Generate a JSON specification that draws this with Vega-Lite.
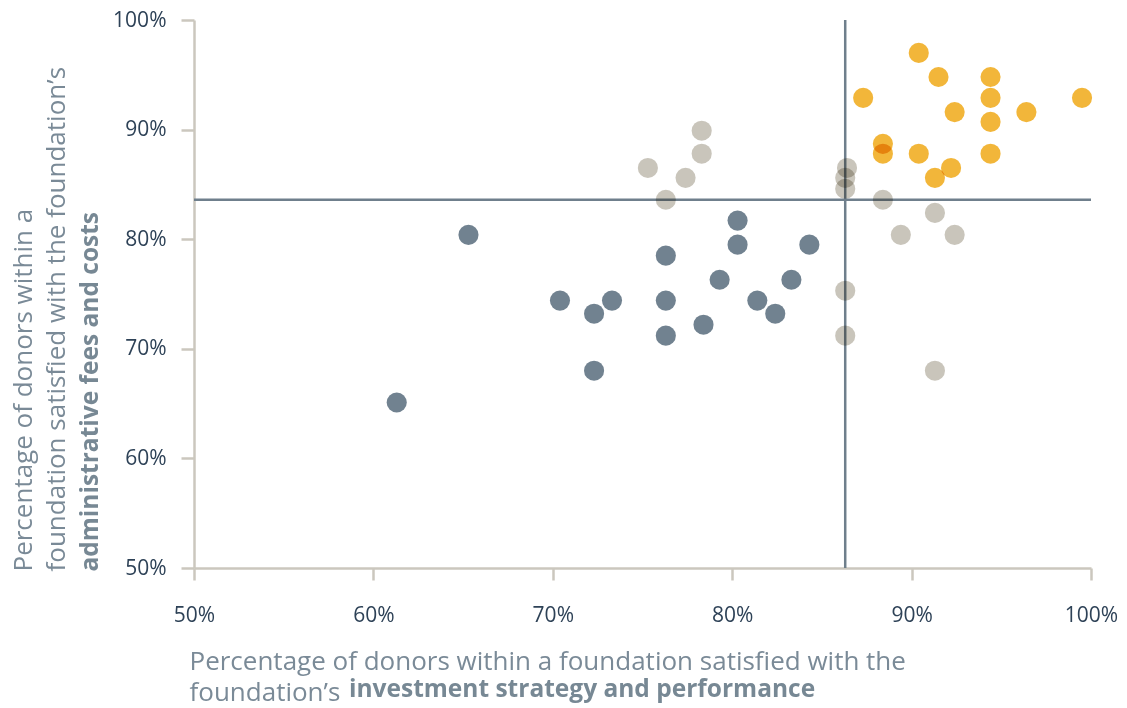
{
  "$schema": "https://vega.github.io/schema/vega-lite/v6.json",
  "width": 897,
  "height": 548,
  "autosize": {"type": "none"},
  "padding": {"left": 194, "top": 20, "right": 36, "bottom": 140},
  "background": "#ffffff",
  "title": {
    "text": "investment strategy and performance",
    "orient": "bottom",
    "anchor": "start",
    "frame": "group",
    "dx": 155,
    "offset": -27,
    "baseline": "top",
    "font": "Open Sans",
    "fontSize": 24.5,
    "fontWeight": "bold",
    "color": "#778894"
  },
  "config": {
    "view": {"stroke": null},
    "font": "Open Sans",
    "axis": {
      "labelFont": "Open Sans",
      "titleFont": "Open Sans",
      "grid": false
    }
  },
  "layer": [
    {
      "data": {"values": [{"mean_investment": 86.3, "mean_fees": 83.6}]},
      "mark": {"type": "rule", "color": "#6f7f8c", "strokeWidth": 2.5},
      "encoding": {
        "x": {
          "field": "mean_investment",
          "type": "quantitative",
          "scale": {"domain": [50, 100], "nice": false, "zero": false},
          "axis": {
            "orient": "bottom",
            "domain": false,
            "ticks": false,
            "labels": false,
            "grid": false,
            "title": "foundation’s",
            "titleFontSize": 26,
            "titleFontWeight": "normal",
            "titleColor": "#7a8a97",
            "titleAlign": "left",
            "titleBaseline": "top",
            "titleAnchor": "start",
            "titleX": -5,
            "titleY": 111
          }
        }
      }
    },
    {
      "data": {"values": [{"mean_investment": 86.3, "mean_fees": 83.6}]},
      "mark": {"type": "rule", "color": "#6f7f8c", "strokeWidth": 2.5},
      "encoding": {
        "y": {
          "field": "mean_fees",
          "type": "quantitative",
          "scale": {"domain": [50, 100], "nice": false, "zero": false},
          "axis": {
            "orient": "left",
            "domain": false,
            "ticks": false,
            "labels": false,
            "grid": false,
            "title": "administrative fees and costs",
            "titleFontSize": 24.5,
            "titleFontWeight": "bold",
            "titleColor": "#778894",
            "titleAngle": -90,
            "titleAlign": "left",
            "titleBaseline": "top",
            "titleX": -116,
            "titleY": 551
          }
        }
      }
    },
    {
      "data": {
        "values": [
          {"investment": 65.3, "fees": 80.4, "group": "low"},
          {"investment": 61.3, "fees": 65.1, "group": "low"},
          {"investment": 70.4, "fees": 74.4, "group": "low"},
          {"investment": 72.3, "fees": 73.2, "group": "low"},
          {"investment": 73.3, "fees": 74.4, "group": "low"},
          {"investment": 72.3, "fees": 68.0, "group": "low"},
          {"investment": 76.3, "fees": 78.5, "group": "low"},
          {"investment": 76.3, "fees": 74.4, "group": "low"},
          {"investment": 76.3, "fees": 71.2, "group": "low"},
          {"investment": 78.4, "fees": 72.2, "group": "low"},
          {"investment": 79.3, "fees": 76.3, "group": "low"},
          {"investment": 80.3, "fees": 81.7, "group": "low"},
          {"investment": 80.3, "fees": 79.5, "group": "low"},
          {"investment": 81.4, "fees": 74.4, "group": "low"},
          {"investment": 82.4, "fees": 73.2, "group": "low"},
          {"investment": 83.3, "fees": 76.3, "group": "low"},
          {"investment": 84.3, "fees": 79.5, "group": "low"},
          {"investment": 78.3, "fees": 89.9, "group": "mixed"},
          {"investment": 78.3, "fees": 87.8, "group": "mixed"},
          {"investment": 75.3, "fees": 86.5, "group": "mixed"},
          {"investment": 77.4, "fees": 85.6, "group": "mixed"},
          {"investment": 76.3, "fees": 83.6, "group": "mixed"},
          {"investment": 86.4, "fees": 86.5, "group": "mixed"},
          {"investment": 86.3, "fees": 85.6, "group": "mixed"},
          {"investment": 86.3, "fees": 84.6, "group": "mixed"},
          {"investment": 88.4, "fees": 83.6, "group": "mixed"},
          {"investment": 91.3, "fees": 82.4, "group": "mixed"},
          {"investment": 89.4, "fees": 80.4, "group": "mixed"},
          {"investment": 92.4, "fees": 80.4, "group": "mixed"},
          {"investment": 86.3, "fees": 75.3, "group": "mixed"},
          {"investment": 86.3, "fees": 71.2, "group": "mixed"},
          {"investment": 91.3, "fees": 68.0, "group": "mixed"},
          {"investment": 90.4, "fees": 97.0, "group": "high"},
          {"investment": 91.5, "fees": 94.8, "group": "high"},
          {"investment": 94.4, "fees": 94.8, "group": "high"},
          {"investment": 87.3, "fees": 92.9, "group": "high"},
          {"investment": 94.4, "fees": 92.9, "group": "high"},
          {"investment": 99.5, "fees": 92.9, "group": "high"},
          {"investment": 92.4, "fees": 91.6, "group": "high"},
          {"investment": 96.4, "fees": 91.6, "group": "high"},
          {"investment": 94.4, "fees": 90.7, "group": "high"},
          {"investment": 88.4, "fees": 88.7, "group": "high"},
          {"investment": 88.4, "fees": 87.8, "group": "high"},
          {"investment": 90.4, "fees": 87.8, "group": "high"},
          {"investment": 94.4, "fees": 87.8, "group": "high"},
          {"investment": 92.2, "fees": 86.5, "group": "high"},
          {"investment": 91.3, "fees": 85.6, "group": "high"}
        ]
      },
      "mark": {"type": "circle", "size": 405, "opacity": 1, "blend": "multiply"},
      "encoding": {
        "x": {
          "field": "investment",
          "type": "quantitative",
          "scale": {"domain": [50, 100], "nice": false, "zero": false},
          "axis": {
            "orient": "bottom",
            "values": [50, 60, 70, 80, 90, 100],
            "labelExpr": "datum.value + '%'",
            "domainColor": "#cbc7be",
            "domainWidth": 2.5,
            "tickColor": "#cbc7be",
            "tickWidth": 2.5,
            "tickSize": 12,
            "labelPadding": 24,
            "labelDx": 5,
            "labelFontSize": 21,
            "labelColor": "#2e4257",
            "labelFlush": false,
            "title": "Percentage of donors within a foundation satisfied with the",
            "titleFontSize": 26,
            "titleFontWeight": "normal",
            "titleColor": "#7a8a97",
            "titleAlign": "left",
            "titleBaseline": "top",
            "titleAnchor": "start",
            "titleX": -5,
            "titleY": 80
          }
        },
        "y": {
          "field": "fees",
          "type": "quantitative",
          "scale": {"domain": [50, 100], "nice": false, "zero": false},
          "axis": {
            "orient": "left",
            "values": [50, 60, 70, 80, 90, 100],
            "labelExpr": "datum.value + '%'",
            "domainColor": "#cbc7be",
            "domainWidth": 2.5,
            "tickColor": "#cbc7be",
            "tickWidth": 2.5,
            "tickSize": 13,
            "labelPadding": 15,
            "labelFontSize": 21,
            "labelColor": "#2e4257",
            "labelFlush": false,
            "title": ["Percentage of donors within a", "foundation satisfied with the foundation’s"],
            "titleFontSize": 26,
            "titleFontWeight": "normal",
            "titleColor": "#7a8a97",
            "titleLineHeight": 33,
            "titleAngle": -90,
            "titleAlign": "left",
            "titleBaseline": "top",
            "titleX": -184,
            "titleY": 551
          }
        },
        "color": {
          "field": "group",
          "type": "nominal",
          "scale": {"domain": ["low", "mixed", "high"], "range": ["#718290", "#c9c5bb", "#f2b63a"]},
          "legend": null
        }
      }
    }
  ],
  "resolve": {"axis": {"x": "independent", "y": "independent"}}
}
